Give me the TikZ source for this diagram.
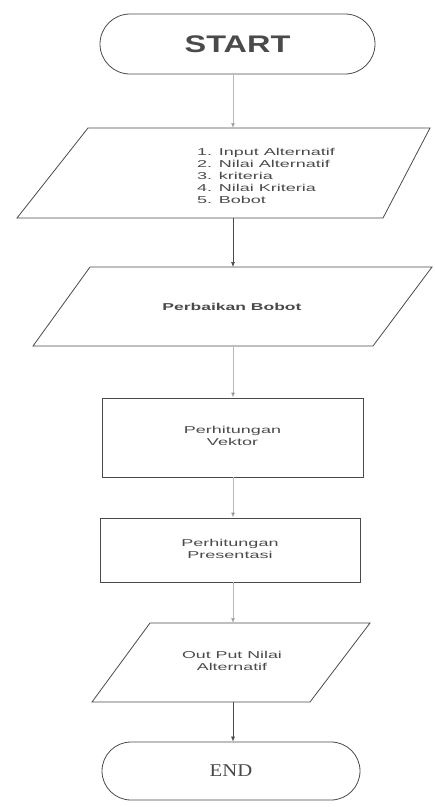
\documentclass[tikz,border=0pt]{standalone}
\usepackage{fontspec}
\setmainfont{Liberation Sans}
\newfontfamily\serifend{Liberation Serif}
\usetikzlibrary{shapes.misc,arrows.meta}
\definecolor{ink}{HTML}{4A4A4A}
\definecolor{faint}{HTML}{B8B8B8}
\tikzset{
  shapeline/.style={draw=ink, line width=0.8pt},
  anchorbox/.style={inner sep=0pt, outer sep=0pt, minimum width=2pt},
  txt/.style={text=ink, inner sep=0pt, font=\fontsize{10}{12}\selectfont},
  link/.style={draw=ink, line width=0.7pt, -{Latex[length=5pt,width=4pt]}},
  fadedlink/.style={draw=faint, line width=0.6pt, -{Latex[length=5pt,width=4pt,fill=ink!80]}},
}
\begin{document}
\begin{tikzpicture}[x=1pt,y=-1pt]
\useasboundingbox (0,0) rectangle (435,807);
% START
\node[shapeline, rounded rectangle, minimum width=275pt, minimum height=60pt, inner sep=0pt] (start) at (237.5,44) {\textcolor{ink}{\scalebox{1.35}[1]{\fontsize{24}{28}\selectfont\bfseries START}}};
% input parallelogram
\node[anchorbox, minimum height=90pt] (in) at (233,173) {};
\draw[shapeline] (88,128) -- (430,128) -- (383,218) -- (17,218) -- cycle;
\node[txt, anchor=west] (intext) at (197,177) {\scalebox{1.8}[1]{\begin{tabular}{@{}l@{}}\fontsize{10}{12}\selectfont 1. Input Alternatif\\ \fontsize{10}{12}\selectfont 2. Nilai Alternatif\\ \fontsize{10}{12}\selectfont 3. kriteria\\ \fontsize{10}{12}\selectfont 4. Nilai Kriteria\\ \fontsize{10}{12}\selectfont 5. Bobot\end{tabular}}};
% perbaikan bobot parallelogram
\node[anchorbox, minimum height=79pt] (perb) at (233,306.5) {};
\draw[shapeline] (90,267) -- (432,267) -- (373,346) -- (33,346) -- cycle;
\node[txt] (perbtext) at (232,307) {\scalebox{1.75}[1]{\bfseries Perbaikan Bobot}};
% vektor
\node[shapeline, rectangle, minimum width=261pt, minimum height=79pt, inner sep=0pt, txt, text=ink] (vek) at (232.5,437.5) {\scalebox{1.8}[1]{\begin{tabular}{@{}c@{}}\fontsize{10}{12}\selectfont Perhitungan\\ \fontsize{10}{12}\selectfont Vektor\end{tabular}}};
% presentasi
\node[shapeline, rectangle, minimum width=260pt, minimum height=64pt, inner sep=0pt, txt, text=ink] (pres) at (230,550) {\scalebox{1.8}[1]{\begin{tabular}{@{}c@{}}\fontsize{10}{12}\selectfont Perhitungan\\ \fontsize{10}{12}\selectfont Presentasi\end{tabular}}};
% output parallelogram
\node[anchorbox, minimum height=79pt] (out) at (233,662.5) {};
\draw[shapeline] (150,623) -- (370,623) -- (310,702) -- (92,702) -- cycle;
\node[txt] (outtext) at (232,662) {\scalebox{1.78}[1]{\begin{tabular}{@{}c@{}}\fontsize{10}{12}\selectfont Out Put Nilai\\ \fontsize{10}{12}\selectfont Alternatif\end{tabular}}};
% END
\node[shapeline, rounded rectangle, minimum width=258pt, minimum height=58pt, inner sep=0pt] (end) at (231,771) {\textcolor{ink}{\scalebox{1.15}[1]{\fontsize{18}{22}\selectfont\serifend END}}};
% connectors
\draw[fadedlink] (in.north |- start.south) -- (in.north);
\draw[link] (in.south) -- (perb.north);
\draw[fadedlink] (perb.south) -- (perb.south |- vek.north);
\draw[fadedlink] (perb.south |- vek.south) -- (perb.south |- pres.north);
\draw[fadedlink] (out.north |- pres.south) -- (out.north);
\draw[link] (out.south) -- (out.south |- end.north);
\end{tikzpicture}
\end{document}
